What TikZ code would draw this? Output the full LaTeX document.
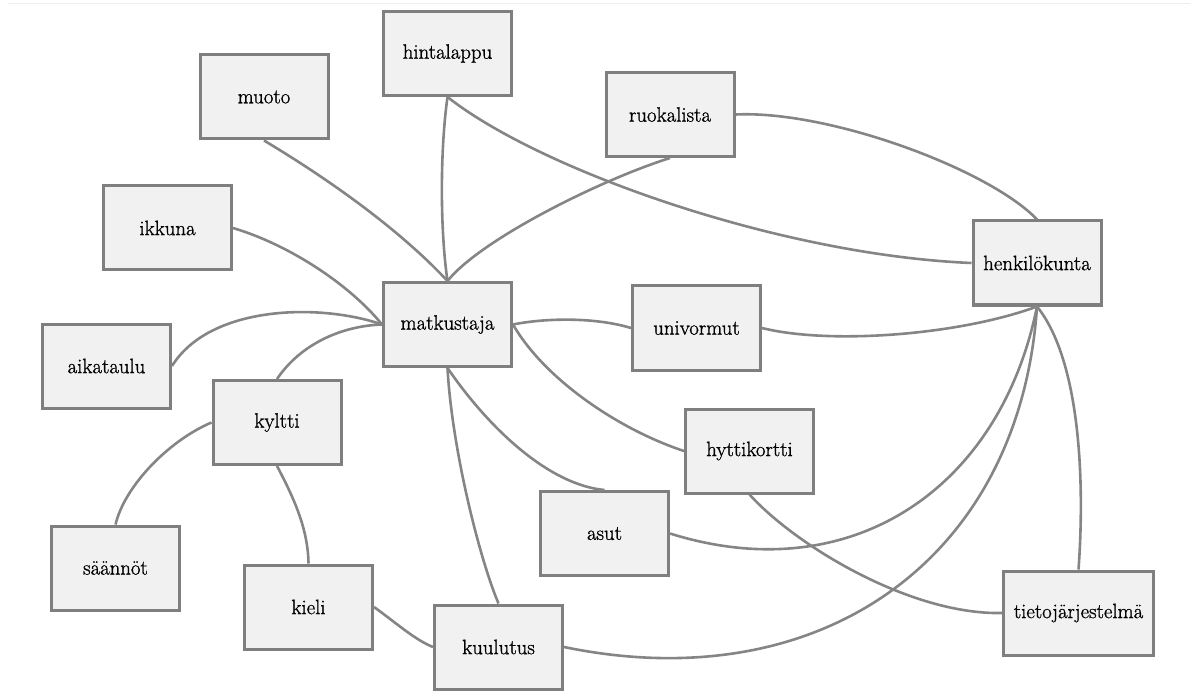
\documentclass[tikz,border=0pt]{standalone}
\usepackage{fontspec}
\newfontfamily\labelfont{Latin Modern Roman}[FakeBold=1]
\definecolor{boxline}{HTML}{7F7F7F}
\definecolor{boxfill}{HTML}{F1F1F1}
\definecolor{linkgray}{HTML}{858585}
\definecolor{rulegray}{HTML}{EEEEEE}
\begin{document}
\begin{tikzpicture}[x=1pt,y=-1pt,
  box/.style={draw=boxline, fill=boxfill, line width=3pt,
    minimum width=128pt, minimum height=84pt, inner sep=0pt,
    font=\labelfont\fontsize{20.8}{25}\selectfont, text=black},
  link/.style={draw=linkgray, line width=2.6pt},
  pagerule/.style={draw=rulegray, line width=1pt}]
\useasboundingbox (0,0) rectangle (1190,692);
\coordinate (ruleL) at (8,4);
\coordinate (ruleR) at (1190,4);
\draw[pagerule] (ruleL) -- (ruleR);

% concept boxes
\node[box] (muoto)      at (264,97)    {muoto};
\node[box] (hintalappu) at (447.5,53.5) {hintalappu};
\node[box] (ruokalista) at (670,114.5) {ruokalista};
\node[box] (ikkuna)     at (167.5,228) {ikkuna};
\node[box] (henkilo)    at (1037,263)  {henkilökunta};
\node[box] (matkustaja) at (447.5,324.5) {matkustaja};
\node[box] (univormut)  at (696.5,328) {univormut};
\node[box] (aikataulu)  at (106.5,366) {aikataulu};
\node[box] (kyltti)     at (277,422.5) {kyltti};
\node[box] (hyttikortti) at (749.5,451) {hyttikortti};
\node[box] (asut)       at (604.5,533.5) {asut};
\node[box] (saannot)    at (115.5,568) {säännöt};
\node[box] (kieli)      at (308.5,607) {kieli};
\node[box] (kuulutus)   at (498.5,647) {kuulutus};
\node[box, minimum width=150pt] (tieto) at (1078.5,613) {tietojärjestelmä};

% links
\draw[link] (muoto.south) .. controls (330,180) and (400,230) .. (matkustaja.north);
\draw[link] (hintalappu.south) .. controls (440,150) and (440,230) .. (matkustaja.north);
\draw[link] (hintalappu.south) .. controls (540,170) and (780,255) .. (henkilo.west);
\draw[link] (ruokalista.south) .. controls (600,180) and (480,240) .. (matkustaja.north);
\draw[link] (ruokalista.east) .. controls (830,110) and (990,170) .. (henkilo.north);
\draw[link] (ikkuna.east) .. controls (290,245) and (350,285) .. (matkustaja.west);
\draw[link] (aikataulu.east) .. controls (210,305) and (320,303) .. (matkustaja.west);
\draw[link] (kyltti.north) .. controls (300,345) and (340,326) .. (matkustaja.west);
\draw[link] (matkustaja.east) .. controls (545,318) and (595,317) .. (univormut.west);
\draw[link] (univormut.east) .. controls (830,345) and (960,335) .. (henkilo.south);
\draw[link] (matkustaja.east) .. controls (545,380) and (620,430) .. (hyttikortti.west);
\draw[link] (matkustaja.south) .. controls (490,430) and (550,485) .. (asut.north);
\draw[link] (matkustaja.south) .. controls (452,450) and (480,560) .. (kuulutus.north);
\draw[link] (asut.east) .. controls (850,590) and (1000,490) .. (henkilo.south);
\draw[link] (kuulutus.east) .. controls (820,700) and (1020,560) .. (henkilo.south);
\draw[link] (hyttikortti.south) .. controls (795,545) and (910,615) .. (tieto.west);
\draw[link] (henkilo.south) .. controls (1080,360) and (1085,480) .. (tieto.north);
\draw[link] (kyltti.west) .. controls (170,440) and (125,485) .. (saannot.north);
\draw[link] (kyltti.south) .. controls (295,500) and (308,530) .. (kieli.north);
\draw[link] (kieli.east) .. controls (395,622) and (415,640) .. (kuulutus.west);
\end{tikzpicture}
\end{document}
